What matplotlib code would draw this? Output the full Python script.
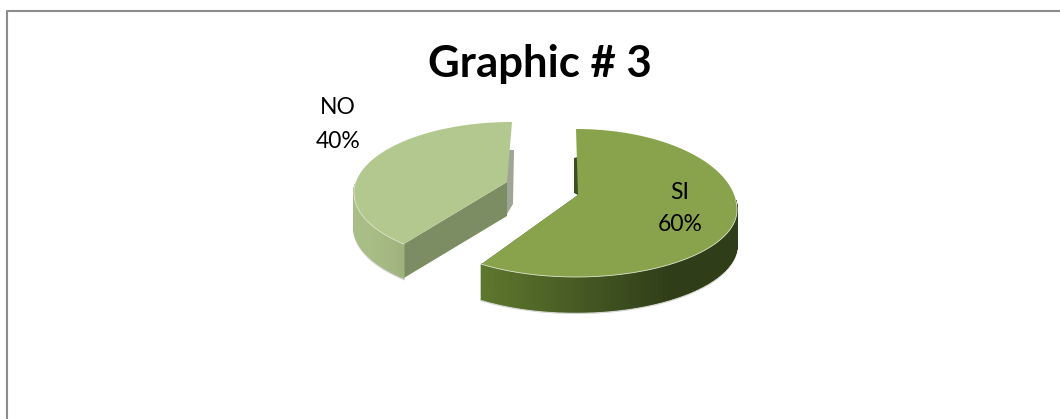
import numpy as np
from matplotlib import pyplot as plt
from matplotlib.colors import to_rgb

title = 'Graphic # 3'
labels = ['SI', 'NO']
values = [60, 40]

W, H = 1060, 419

# pixel geometry of each slice
# apex x, apex y, rim centre x, rim centre y, rx, ry up, ry down, depth, sweep scale (perspective)
slice_geom = {
    'SI': (578, 195, 576, 210, 161, 81, 67, 35, 1.0),
    'NO': (507, 182, 512, 193, 158, 71, 70, 34, 0.95),
}
top_colors = {'SI': '#88a34b', 'NO': '#b3c88f'}
wall_light = {'SI': '#6f8c36', 'NO': '#a9bd86'}
wall_dark = {'SI': '#2f3d18', 'NO': '#8d9f70'}
cut_colors = {'SI': '#3c4d1f', 'NO': '#7d8d63'}


def mix(a, b, t):
    a, b = np.array(to_rgb(a)), np.array(to_rgb(b))
    return tuple(a + (b - a) * t)


def rim(name, ang):
    _, _, cx, cy, rx, up, down, _, _ = slice_geom[name]
    ry = np.where(np.sin(ang) > 0, up, down)
    return cx + rx * np.cos(ang), cy - ry * np.sin(ang)


def draw_slice(ax, name, sweep):
    # every slice hangs from 12 o'clock, SI goes clockwise and NO counter clockwise
    ax_x, ax_y, cx, cy, rx, up, down, depth, scale = slice_geom[name]
    ang = np.radians(90 + sweep * scale * np.linspace(0, 1, 300))
    x, y = rim(name, ang)

    # flat cut face at the far end of the slice
    ex, ey = x[-1], y[-1]
    ax.fill([ax_x, ex, ex, ax_x], [ax_y, ey, ey + depth, ax_y + depth],
            color=cut_colors[name], lw=0, zorder=2)

    # dark sliver of the cut face behind the 12 o'clock edge
    if name == 'SI':
        ax.fill([ax_x, ax_x - 4, ax_x - 4, ax_x], [ax_y - 38, ax_y - 37, ax_y - 2, ax_y],
                color='#3c4d1f', lw=0, zorder=2)
    else:
        ax.fill([ax_x, ax_x + 7, ax_x + 6, ax_x], [ax_y - 32, ax_y - 32, ax_y + 22, ax_y + 32],
                color='#a0a696', lw=0, zorder=2)

    # outer wall as thin strips, only the part facing the viewer
    front = np.sin(ang) < 0.13
    xs, ys = x[front], y[front]
    ax.plot(xs, ys + depth + 1, color='#d4d6d0', lw=1.6, zorder=1)
    for i in range(len(xs) - 1):
        t = (xs[i] - (cx - rx)) / (2 * rx)
        if name == 'NO':
            t = (t - 0.05) * 2.5
        c = mix(wall_light[name], wall_dark[name], np.clip(t * 1.25, 0, 1))
        ax.fill([xs[i], xs[i + 1], xs[i + 1], xs[i]],
                [ys[i], ys[i + 1], ys[i + 1] + depth, ys[i] + depth],
                color=c, lw=1, zorder=3)

    ax.fill(np.r_[ax_x, x], np.r_[ax_y, y], color=top_colors[name], lw=0, zorder=4)
    ax.plot(xs, ys, color='#dfe6cf', lw=0.6, zorder=5)


fig = plt.figure(figsize=(W / 100, H / 100), dpi=100)
ax = fig.add_axes([0, 0, 1, 1])
ax.set_xlim(0, W)
ax.set_ylim(H, 0)
ax.axis('off')

plt.rcParams['font.family'] = ['Lato', 'DejaVu Sans']

# chart border, only top and left are inside the crop
ax.plot([6.7, 6.7, W], [H, 11.5, 11.5], color='#8c8c8c', lw=1.5, zorder=1)

total = sum(values)
draw_slice(ax, 'NO', 360 * values[1] / total)
draw_slice(ax, 'SI', -360 * values[0] / total)

ax.text(540, 77, title, fontsize=31.5, fontweight='bold', ha='center', va='baseline')
ax.text(338, 114, labels[1], fontsize=16.5, ha='center', va='baseline')
ax.text(338, 148, f'{values[1]}%', fontsize=16.5, ha='center', va='baseline')
ax.text(680, 199, labels[0], fontsize=16.5, ha='center', va='baseline', zorder=6)
ax.text(680, 231, f'{values[0]}%', fontsize=16.5, ha='center', va='baseline', zorder=6)

plt.savefig('out.png', dpi=100)
